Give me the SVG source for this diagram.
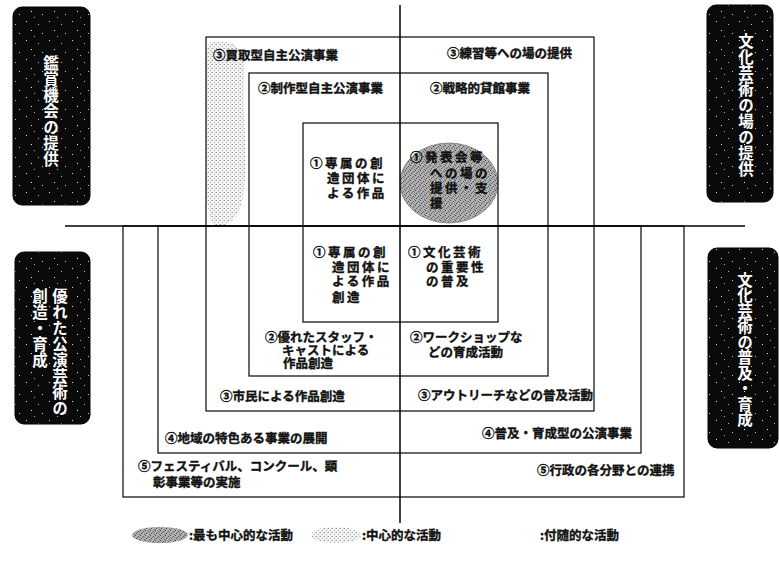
<svg xmlns="http://www.w3.org/2000/svg" width="779" height="565" viewBox="0 0 779 565">
<style>
.t{font-family:"Noto Sans CJK JP","Noto Sans CJK SC",sans-serif;font-weight:bold;font-size:12.5px;fill:#111;stroke:#111;stroke-width:0.35px}
.s{letter-spacing:2.5px}
.v{font-family:"Noto Sans CJK JP","Noto Sans CJK SC",sans-serif;font-weight:bold;font-size:15.5px;fill:#fff;writing-mode:vertical-rl;letter-spacing:0.5px}
.box{fill:url(#noise);stroke:#000;stroke-width:1}
.r{fill:none;stroke:#1a1a1a;stroke-width:1.3}
.ax{stroke:#000;stroke-width:1.5;fill:none}
</style>
<defs>
<pattern id="noise" width="23" height="19" patternUnits="userSpaceOnUse">
<rect width="23" height="19" fill="#0a0a0a"/>
<rect x="3" y="2" width="1" height="1" fill="#ddd"/>
<rect x="15" y="5" width="1" height="1" fill="#bbb"/>
<rect x="8" y="11" width="1" height="1" fill="#eee"/>
<rect x="19" y="14" width="1" height="1" fill="#ccc"/>
<rect x="11" y="17" width="1" height="1" fill="#aaa"/>
</pattern>
<pattern id="dark" width="5" height="5" patternUnits="userSpaceOnUse">
<rect width="5" height="5" fill="#b0b0b0"/>
<rect x="0" y="0" width="1" height="1" fill="#444"/>
<rect x="3" y="1" width="1" height="1" fill="#555"/>
<rect x="1" y="3" width="1" height="1" fill="#4a4a4a"/>
<rect x="4" y="4" width="1" height="1" fill="#666"/>
<rect x="2" y="2" width="1" height="1" fill="#777"/>
<rect x="4" y="2" width="1" height="1" fill="#888"/>
</pattern>
<pattern id="light" width="4" height="4" patternUnits="userSpaceOnUse">
<rect width="4" height="4" fill="#f2f2f2"/>
<rect x="0" y="0" width="1" height="1" fill="#999"/>
<rect x="2" y="2" width="1" height="1" fill="#aaa"/>
<rect x="3" y="0" width="1" height="1" fill="#ccc"/>
</pattern>
</defs>

<g id="side-labels">
<g id="label-kansho">
<rect class="box" x="13" y="7" width="77" height="198" rx="9"/>
<text class="v" x="51" y="55">鑑賞機会の提供</text>
</g>
<g id="label-ba">
<rect class="box" x="707" y="5" width="66" height="197" rx="9"/>
<text class="v" x="746" y="33">文化芸術の場の提供</text>
</g>
<g id="label-sozo">
<rect class="box" x="15" y="252" width="75" height="172" rx="9"/>
<text class="v" x="60" y="288">優れた公演芸術の</text>
<text class="v" x="40" y="288">創造・育成</text>
</g>
<g id="label-fukyu">
<rect class="box" x="708" y="248" width="70" height="200" rx="9"/>
<text class="v" x="745" y="272" style="letter-spacing:0px">文化芸術の普及・育成</text>
</g>
</g>

<g id="shading">
<path d="M212,42 C232,38 246,48 244,70 C242,110 248,150 244,190 C241,215 232,226 218,226 C208,226 206,200 207,170 C208,120 204,80 206,55 C207,47 208,43 212,42 Z" fill="url(#light)"/>
<ellipse cx="449" cy="183" rx="49" ry="40" fill="url(#dark)" stroke="#777" stroke-width="0.8"/>
</g>

<g id="rects">
<rect id="r5" class="r" x="123" y="226" width="561" height="271"/>
<rect id="r4" class="r" x="158" y="226" width="483" height="227"/>
<rect id="r3" class="r" x="206" y="37" width="388" height="374"/>
<rect id="r2" class="r" x="249" y="73" width="299" height="303"/>
<rect id="r1" class="r" x="303" y="123" width="195" height="199"/>
</g>

<g id="axes">
<line class="ax" x1="400" y1="5" x2="400" y2="523"/>
<line class="ax" x1="65" y1="226" x2="745" y2="226"/>
</g>

<g id="labels">
<text class="t" x="213" y="60">③買取型自主公演事業</text>
<text class="t" x="447" y="58">③練習等への場の提供</text>
<text class="t" x="258" y="93">②制作型自主公演事業</text>
<text class="t" x="430" y="93">②戦略的貸館事業</text>

<text class="t s" x="310" y="168">①専属の創</text>
<text class="t s" x="327" y="183">造団体に</text>
<text class="t s" x="327" y="198">よる作品</text>

<text class="t s" x="410" y="162">①発表会等</text>
<text class="t s" x="430" y="178">への場の</text>
<text class="t s" x="430" y="193">提供・支</text>
<text class="t s" x="430" y="208">援</text>

<text class="t s" x="313" y="257">①専属の創</text>
<text class="t s" x="332" y="272">造団体に</text>
<text class="t s" x="332" y="286">よる作品</text>
<text class="t s" x="332" y="302">創造</text>

<text class="t s" x="408" y="257">①文化芸術</text>
<text class="t s" x="426" y="272">の重要性</text>
<text class="t s" x="426" y="286">の普及</text>

<text class="t" x="265" y="342">②優れたスタッフ・</text>
<text class="t" x="282" y="355">キャストによる</text>
<text class="t" x="283" y="368">作品創造</text>

<text class="t" x="410" y="342">②ワークショップな</text>
<text class="t" x="428" y="357">どの育成活動</text>

<text class="t" x="220" y="401">③市民による作品創造</text>
<text class="t" x="418" y="400">③アウトリーチなどの普及活動</text>

<text class="t" x="165" y="443">④地域の特色ある事業の展開</text>
<text class="t" x="482" y="438">④普及・育成型の公演事業</text>

<text class="t" x="138" y="471">⑤フェスティバル、コンクール、顕</text>
<text class="t" x="153" y="487">彰事業等の実施</text>
<text class="t" x="537" y="475">⑤行政の各分野との連携</text>
</g>

<g id="legend">
<ellipse cx="160" cy="535" rx="28" ry="8" fill="url(#dark)"/>
<text class="t" x="189" y="540">:最も中心的な活動</text>
<ellipse cx="336" cy="535" rx="25" ry="8" fill="url(#light)"/>
<text class="t" x="362" y="540">:中心的な活動</text>
<text class="t" x="540" y="540">:付随的な活動</text>
</g>
</svg>
